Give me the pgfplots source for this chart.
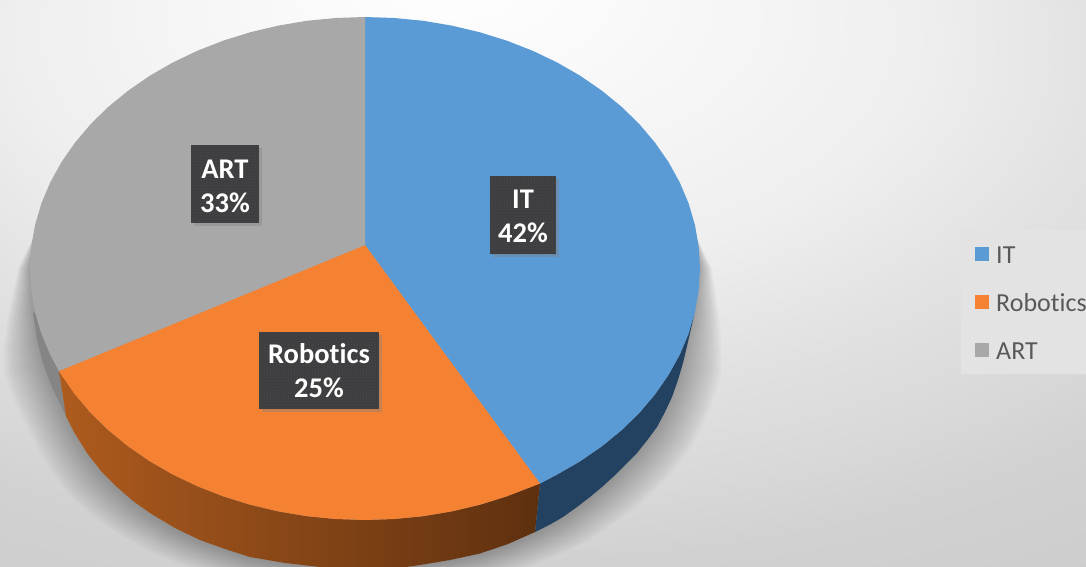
\documentclass[border=0pt]{standalone}
\usepackage{pgfplots}
\pgfplotsset{compat=1.18}
\usepackage{pgfplotstable}
\usepackage{fontspec}
\setmainfont[Ligatures=NoCommon]{Carlito}
\usetikzlibrary{patterns,shadows}
\definecolor{cIT}{HTML}{5B9BD5}
\definecolor{cRob}{HTML}{F58232}
\definecolor{cArt}{HTML}{A8A8A8}
\definecolor{cITs}{HTML}{234160}
\definecolor{cArts}{HTML}{858585}
\definecolor{boxc}{HTML}{3E3E40}
\definecolor{dotc}{HTML}{5A5A5C}
\definecolor{sideL}{HTML}{AE5B1E}
\definecolor{sideM}{HTML}{6B3811}
\definecolor{sideR}{HTML}{5E300F}
\definecolor{legbg}{HTML}{E3E3E3}
\definecolor{tx}{HTML}{595959}
\pgfdeclareradialshading{bgshade}{\pgfpoint{-4.3bp}{27.6bp}}{%
 color(0bp)=(white);
 color(12bp)=(white!96.5!black);
 color(21bp)=(white!93.5!black);
 color(29bp)=(white!88.5!black);
 color(36bp)=(white!85!black);
 color(41bp)=(white!82!black);
 color(55bp)=(white!79!black);
 color(60bp)=(white!77!black);
 color(100bp)=(white!77!black)}
\pgfplotstableread{
x y
693 230
700 268
695 308
693 320
688 342
683 363
678 380
672 397
665 412
657 427
647 440.5
637 453
625 465
613 477
602 487
590 497
577 507
563 517
550 524.5
535 532
508 544
480 553.5
450 560
420 565
392 569
365 570
345 569
320 567
285 563
250 557
225 549
200 540
175 528
150 513
133 501
117 487
101 471
87 453
74 432
63 410
52 387
43 363
37 340
33 313
30 268
37 230
}\silhouette
\begin{document}
\begin{tikzpicture}[x=1pt,y=1pt]
\useasboundingbox (0,0) rectangle (1086,567);
\fill[shading=bgshade] (0,0) rectangle (1086,567);
\begin{axis}[
  at={(0,0)},anchor=south west,
  width=1086pt,height=567pt,scale only axis,
  xmin=0,xmax=1086,ymin=0,ymax=567,y dir=reverse,
  hide axis,
  legend style={at={(axis cs:961,230)},anchor=north west,draw=none,
    fill=legbg,
    font=\fontsize{26}{28}\selectfont,text=tx,
    inner xsep=14pt,inner ysep=12pt,row sep=24pt,
    nodes={inner sep=0pt,text height=21pt,text depth=3pt},
    /tikz/every odd column/.append style={column sep=7pt},
    },
  legend cell align=left,
  legend image code/.code={\fill[#1,draw=none] (0pt,-7pt) rectangle (14pt,7.5pt);},
]
% soft shadow behind the pie
\pgfplotsinvokeforeach{0.005,0.01,0.015,0.02,0.025,0.03,0.035,0.04,0.045,0.05,0.055,0.06,0.065,0.07,0.075,0.08}{
\addplot[forget plot,fill=black,fill opacity=0.018,draw=none] table[
  x expr={365+(\thisrow{x}-365)*(1+1.5*#1*min(1,max(0,(\thisrow{y}-230)/130)))},
  y expr={\thisrow{y}+#1*300*min(1,max(0,(\thisrow{y}-270)/200))}] {\silhouette} -- cycle;
}
% sides
\addplot[forget plot,fill=cArts,draw=none] coordinates {
(33,313)(35.1,312.2)(41.4,333.6)(50.2,354.5)(59,371)(66,416)(63,410)(52,387)(43,363)(37,340)} -- cycle;
\addplot[forget plot,fill=cITs,draw=none] coordinates {
(695,308)(688.6,333.6)(679.8,354.5)(668.6,374.8)(655.1,394.3)(639.4,412.8)(621.6,430.2)(601.9,446.3)(580.3,461.2)(557.2,474.5)(540,483.5)
(535,532)(550,524.5)(563,517)(577,507)(590,497)(602,487)(613,477)(625,465)(637,453)(647,440.5)(657,427)(665,412)(672,397)(678,380)(683,363)(688,342)(693,320)} -- cycle;
\addplot[forget plot,draw=none,left color=sideL,middle color=sideM,right color=sideR] coordinates {
(59,371)(61.4,374.8)(74.9,394.3)(90.6,412.8)(108.4,430.2)(128.1,446.3)(149.7,461.2)(172.8,474.5)(197.5,486.3)(223.4,496.4)(250.4,504.8)(278.3,511.4)(306.8,516.2)(335.8,519)(365,520)
(394.2,519)(423.2,516.2)(451.7,511.4)(479.6,504.8)(506.6,496.4)(540,483.5)
(535,532)(508,544)(480,553.5)(450,560)(420,565)(392,569)(365,570)(345,569)(320,567)(285,563)(250,557)(225,549)(200,540)(175,528)(150,513)(133,501)(117,487)(101,471)(87,453)(74,432)(66,416)} -- cycle;
% top face
\addplot[fill=cIT,draw=none] coordinates {
(365,245)(365,17)(394.2,18)(423.2,20.8)(451.7,25.6)(479.6,32.2)(506.6,40.6)(532.5,50.7)(557.2,62.5)(580.3,75.8)(601.9,90.7)(621.6,106.8)(639.4,124.2)(655.1,142.8)(668.6,162.2)(679.8,182.5)(688.6,203.4)(694.9,224.8)(698.7,246.6)
(700,268.5)(698.7,290.4)(694.9,312.2)(688.6,333.6)(679.8,354.5)(668.6,374.8)(655.1,394.3)(639.4,412.8)(621.6,430.2)(601.9,446.3)(580.3,461.2)(557.2,474.5)(540,483.5)} -- cycle;
\addlegendentry{IT}
\addplot[fill=cRob,draw=none] coordinates {
(365,245)(540,483.5)(506.6,496.4)(479.6,504.8)(451.7,511.4)(423.2,516.2)(394.2,519)(365,520)(335.8,519)(306.8,516.2)(278.3,511.4)(250.4,504.8)(223.4,496.4)(197.5,486.3)(172.8,474.5)(149.7,461.2)(128.1,446.3)(108.4,430.2)(90.6,412.8)(74.9,394.3)(61.4,374.8)(59,371)} -- cycle;
\addlegendentry{Robotics}
\addplot[fill=cArt,draw=none] coordinates {
(365,245)(59,371)(50.2,354.5)(41.4,333.6)(35.1,312.2)(31.3,290.4)(30,268.5)(31.3,246.6)(35.1,224.8)(41.4,203.4)(50.2,182.5)(61.4,162.2)(74.9,142.8)(90.6,124.2)(108.4,106.8)(128.1,90.7)(149.7,75.8)(172.8,62.5)(197.5,50.7)(223.4,40.6)(250.4,32.2)(278.3,25.6)(306.8,20.8)(335.8,18)(365,17)} -- cycle;
\addlegendentry{ART}
% data labels
\tikzset{lab/.style={preaction={fill=boxc,drop shadow={shadow xshift=3pt,shadow yshift=-3pt,opacity=.4}},
  pattern=dots,pattern color=dotc,inner sep=0pt},
  labt/.style={text=white,align=center,inner sep=0pt,font=\fontsize{28.5}{34}\selectfont\bfseries}}
\node[lab,minimum width=68pt,minimum height=78pt] at (axis cs:225,184) {};
\node[labt] at (axis cs:225,186.5) {ART\\33\%};
\node[lab,minimum width=66pt,minimum height=78pt] at (axis cs:523,215) {};
\node[labt] at (axis cs:523,216.5) {IT\\42\%};
\node[lab,minimum width=120pt,minimum height=77pt] at (axis cs:319,370.5) {};
\node[labt] at (axis cs:319,370.5) {Robotics\\25\%};
\end{axis}
\end{tikzpicture}
\end{document}
